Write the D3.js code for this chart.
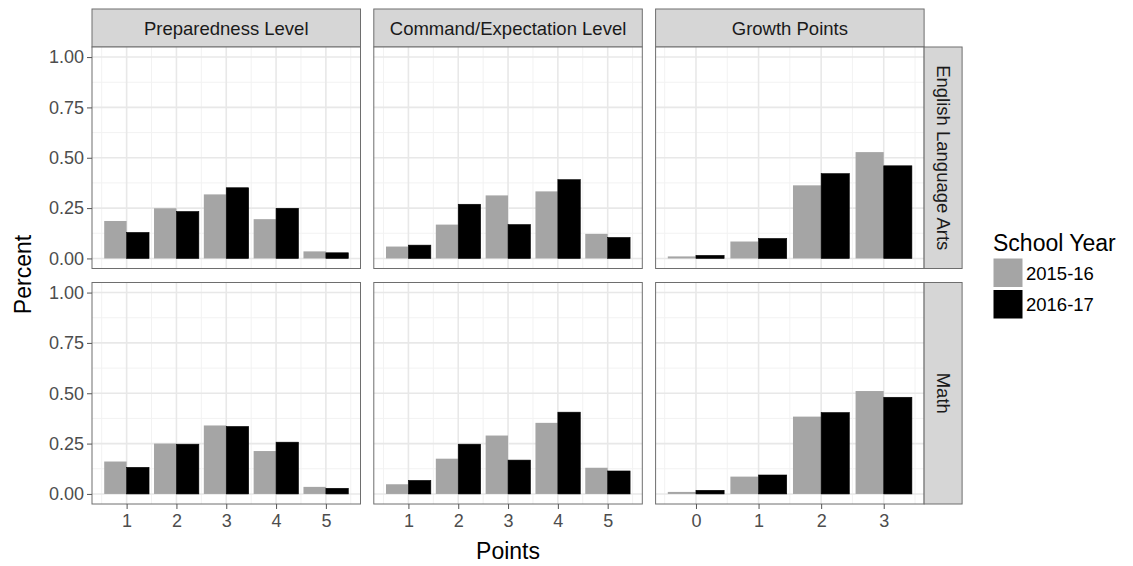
<!DOCTYPE html>
<html>
<head>
<meta charset="utf-8">
<script src="https://cdn.jsdelivr.net/npm/d3@7"></script>
<style>
  body { margin: 0; background: #fff; }
  text { font-family: "Liberation Sans", Arial, sans-serif; }
</style>
</head>
<body>
<script>
// facets and categories
var measures = ["Preparedness Level", "Command/Expectation Level", "Growth Points"];
var subjects = ["English Language Arts", "Math"];
var years = ["2015-16", "2016-17"];
var levelPoints = [1, 2, 3, 4, 5];
var growthPoints = [0, 1, 2, 3];
var yTicks = [0, 0.25, 0.5, 0.75, 1];

// percent values
var elaPrep2015 = [0.186, 0.249, 0.318, 0.195, 0.035];
var elaPrep2016 = [0.129, 0.233, 0.351, 0.249, 0.028];
var elaCmd2015 = [0.059, 0.168, 0.313, 0.333, 0.122];
var elaCmd2016 = [0.066, 0.269, 0.168, 0.391, 0.104];
var elaGrowth2015 = [0.010, 0.084, 0.363, 0.528];
var elaGrowth2016 = [0.015, 0.099, 0.421, 0.460];
var mathPrep2015 = [0.161, 0.250, 0.340, 0.213, 0.035];
var mathPrep2016 = [0.132, 0.247, 0.335, 0.257, 0.028];
var mathCmd2015 = [0.048, 0.175, 0.290, 0.353, 0.130];
var mathCmd2016 = [0.067, 0.247, 0.168, 0.406, 0.114];
var mathGrowth2015 = [0.010, 0.086, 0.384, 0.511];
var mathGrowth2016 = [0.018, 0.094, 0.404, 0.480];

var yearColor = {"2015-16": "#a5a5a5", "2016-17": "#000000"};

var cells = [
  [[elaPrep2015, elaPrep2016], [elaCmd2015, elaCmd2016], [elaGrowth2015, elaGrowth2016]],
  [[mathPrep2015, mathPrep2016], [mathCmd2015, mathCmd2016], [mathGrowth2015, mathGrowth2016]]
];
var xCats = [levelPoints, levelPoints, growthPoints];

var width = 1133, height = 566;
var marginLeft = 92, marginTop = 47;
var panelW = 268.5, panelH = 221.5, colGap = 13.3, rowGap = 14;
var stripH = 38;

var svg = d3.select("body").append("svg")
    .attr("width", width)
    .attr("height", height);

var y = d3.scaleLinear().domain([-0.05, 1.05]).range([panelH, 0]);
var yMinor = [0.125, 0.375, 0.625, 0.875];

measures.forEach(function(m, c) {
  var cats = xCats[c];
  var lo = d3.min(cats) - 0.45, hi = d3.max(cats) + 0.45;
  var pad = (hi - lo) * 0.05;
  var x = d3.scaleLinear().domain([lo - pad, hi + pad]).range([0, panelW]);
  var xMinor = cats.slice(0, -1).map(function(d) { return d + 0.5; });
  xMinor.unshift(cats[0] - 0.5);
  xMinor.push(cats[cats.length - 1] + 0.5);
  var px = marginLeft + c * (panelW + colGap);

  // column strip
  var strip = svg.append("g").attr("transform", "translate(" + px + "," + (marginTop - stripH) + ")");
  strip.append("rect")
      .attr("width", panelW).attr("height", stripH)
      .attr("fill", "#d6d6d6").attr("stroke", "#6e6e6e").attr("stroke-width", 1);
  strip.append("text")
      .attr("x", panelW / 2).attr("y", stripH / 2 + 6.5)
      .attr("text-anchor", "middle")
      .attr("font-size", 18.5).attr("fill", "#1a1a1a")
      .text(m);

  subjects.forEach(function(s, r) {
    var py = marginTop + r * (panelH + rowGap);
    var g = svg.append("g").attr("transform", "translate(" + px + "," + py + ")");

    g.append("rect").attr("width", panelW).attr("height", panelH).attr("fill", "#fff");

    // grid
    g.selectAll(".ymin").data(yMinor).enter().append("line")
        .attr("x1", 0).attr("x2", panelW)
        .attr("y1", function(d) { return y(d); }).attr("y2", function(d) { return y(d); })
        .attr("stroke", "#f2f2f2").attr("stroke-width", 1);
    g.selectAll(".xmin").data(xMinor).enter().append("line")
        .attr("y1", 0).attr("y2", panelH)
        .attr("x1", function(d) { return x(d); }).attr("x2", function(d) { return x(d); })
        .attr("stroke", "#f2f2f2").attr("stroke-width", 1);
    g.selectAll(".ymaj").data(yTicks).enter().append("line")
        .attr("x1", 0).attr("x2", panelW)
        .attr("y1", function(d) { return y(d); }).attr("y2", function(d) { return y(d); })
        .attr("stroke", "#e8e8e8").attr("stroke-width", 1.6);
    g.selectAll(".xmaj").data(cats).enter().append("line")
        .attr("y1", 0).attr("y2", panelH)
        .attr("x1", function(d) { return x(d); }).attr("x2", function(d) { return x(d); })
        .attr("stroke", "#e8e8e8").attr("stroke-width", 1.6);

    // bars
    var vals = cells[r][c];
    years.forEach(function(yr, k) {
      g.selectAll(".bar" + k).data(cats).enter().append("rect")
          .attr("x", function(d) { return x(d - 0.45 + k * 0.45); })
          .attr("width", x(0.45) - x(0))
          .attr("y", function(d, i) { return y(vals[k][i]); })
          .attr("height", function(d, i) { return y(0) - y(vals[k][i]); })
          .attr("fill", yearColor[yr])
          .attr("stroke", k == 1 ? "#000" : "none")
          .attr("stroke-width", 0.6);
    });

    g.append("rect").attr("width", panelW).attr("height", panelH)
        .attr("fill", "none").attr("stroke", "#6e6e6e").attr("stroke-width", 1);

    // y axis on first column
    if (c == 0) {
      var ya = g.append("g").call(d3.axisLeft(y).tickValues(yTicks)
          .tickFormat(d3.format(".2f")).tickSize(5).tickPadding(3));
      ya.select(".domain").remove();
      ya.selectAll("line").attr("stroke", "#555");
      ya.selectAll("text").attr("font-size", 18).attr("fill", "#4d4d4d")
          .attr("font-family", "Liberation Sans, Arial, sans-serif");
    }
    // x axis on bottom row
    if (r == subjects.length - 1) {
      var xa = g.append("g").attr("transform", "translate(0," + panelH + ")")
          .call(d3.axisBottom(x).tickValues(cats).tickFormat(d3.format("d")).tickSize(5).tickPadding(5));
      xa.select(".domain").remove();
      xa.selectAll("line").attr("stroke", "#555");
      xa.selectAll("text").attr("font-size", 18).attr("fill", "#4d4d4d")
          .attr("font-family", "Liberation Sans, Arial, sans-serif");
    }
    // row strip on last column
    if (c == measures.length - 1) {
      var rs = svg.append("g").attr("transform", "translate(" + (px + panelW) + "," + py + ")");
      rs.append("rect").attr("width", stripH).attr("height", panelH)
          .attr("fill", "#d6d6d6").attr("stroke", "#6e6e6e").attr("stroke-width", 1);
      rs.append("text")
          .attr("transform", "translate(" + (stripH / 2 - 6.5) + "," + (panelH / 2) + ") rotate(90)")
          .attr("text-anchor", "middle")
          .attr("font-size", 18.5).attr("fill", "#1a1a1a")
          .text(s);
    }
  });
});

// axis titles
var plotBottom = marginTop + 2 * panelH + rowGap;
svg.append("text")
    .attr("x", marginLeft + 1.5 * panelW + colGap).attr("y", 559)
    .attr("text-anchor", "middle").attr("font-size", 23).attr("fill", "#000")
    .text("Points");
svg.append("text")
    .attr("transform", "translate(31," + ((marginTop - stripH + plotBottom) / 2 + 18) + ") rotate(-90)")
    .attr("text-anchor", "middle").attr("font-size", 23).attr("fill", "#000")
    .text("Percent");

// legend
var lg = svg.append("g").attr("transform", "translate(993,230)");
lg.append("text").attr("x", 0).attr("y", 21)
    .attr("font-size", 23).attr("fill", "#000").text("School Year");
years.forEach(function(yr, i) {
  lg.append("rect")
      .attr("x", 0.5).attr("y", 28.5 + i * 31.5)
      .attr("width", 29).attr("height", 28.5)
      .attr("fill", yearColor[yr]);
  lg.append("text")
      .attr("x", 33).attr("y", 49.5 + i * 31.5)
      .attr("font-size", 18.5).attr("fill", "#000").text(yr);
});
</script>
</body>
</html>
